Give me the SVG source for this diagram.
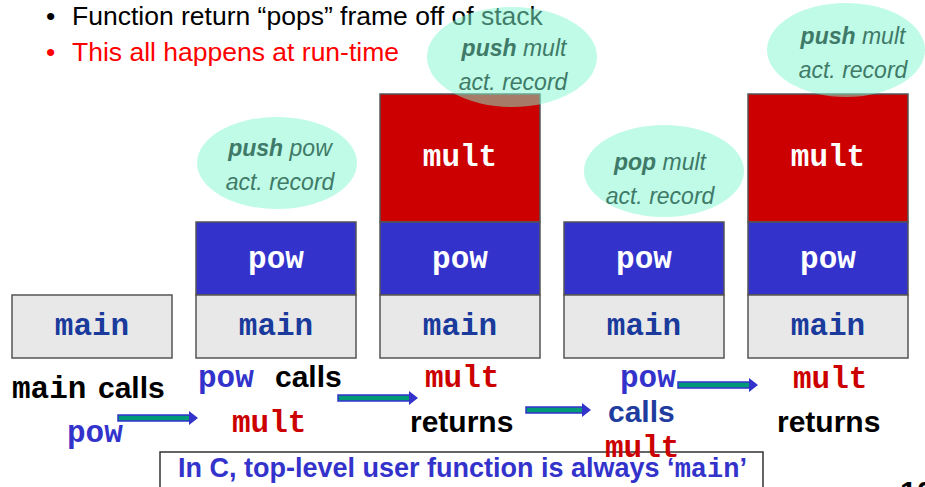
<svg xmlns="http://www.w3.org/2000/svg" width="925" height="487" viewBox="0 0 925 487">
  <style>
    .bullet { font-family: "Liberation Sans", Arial, sans-serif; font-size: 26.5px; }
    .frame { stroke: #555; stroke-width: 1.5; }
    .f-main { fill: #E8E8E8; }
    .f-pow { fill: #3333CC; }
    .f-mult { fill: #CC0000; }
    .code { font-family: "Liberation Mono", "Courier New", monospace; font-weight: bold; font-size: 31px; }
    .in-main { fill: #1A3A9C; }
    .in-box { fill: #FFFFFF; }
    .bubble { fill: #80F8D0; opacity: 0.5; }
    .note { font-family: "Liberation Sans", Arial, sans-serif; font-style: italic; font-size: 23px; fill: #3F7A68; }
    .lbl { font-family: "Liberation Sans", Arial, sans-serif; font-weight: bold; font-size: 30px; }
    .blk { fill: #000; }
    .blu { fill: #3333CC; }
    .dblu { fill: #1F3D9E; }
    .red { fill: #CC0000; }
    .shaft { fill: #009977; stroke: #3333CC; stroke-width: 1.5; }
    .head { fill: #3333CC; }
  </style>

  <!-- bullet points -->
  <text class="bullet" x="46" y="25" fill="#000">•</text>
  <text class="bullet" x="72" y="25" fill="#000">Function return “pops” frame off of stack</text>
  <text class="bullet" x="46" y="61" fill="#FF0000">•</text>
  <text class="bullet" x="72" y="61" fill="#FF0000">This all happens at run-time</text>

  <!-- stack snapshot 1 -->
  <g id="stack1">
    <rect class="frame f-main" x="12" y="295" width="160" height="63"/>
    <text class="code in-main" x="92" y="335" text-anchor="middle">main</text>
  </g>

  <!-- stack snapshot 2 -->
  <g id="stack2">
    <rect class="frame f-pow" x="196" y="222" width="160" height="73"/>
    <text class="code in-box" x="276" y="268" text-anchor="middle">pow</text>
    <rect class="frame f-main" x="196" y="295" width="160" height="63"/>
    <text class="code in-main" x="276" y="335" text-anchor="middle">main</text>
  </g>

  <!-- stack snapshot 3 -->
  <g id="stack3">
    <rect class="frame f-mult" x="380" y="94" width="160" height="128"/>
    <text class="code in-box" x="460" y="166" text-anchor="middle">mult</text>
    <rect class="frame f-pow" x="380" y="222" width="160" height="73"/>
    <text class="code in-box" x="460" y="268" text-anchor="middle">pow</text>
    <rect class="frame f-main" x="380" y="295" width="160" height="63"/>
    <text class="code in-main" x="460" y="335" text-anchor="middle">main</text>
  </g>

  <!-- stack snapshot 4 -->
  <g id="stack4">
    <rect class="frame f-pow" x="564" y="222" width="160" height="73"/>
    <text class="code in-box" x="644" y="268" text-anchor="middle">pow</text>
    <rect class="frame f-main" x="564" y="295" width="160" height="63"/>
    <text class="code in-main" x="644" y="335" text-anchor="middle">main</text>
  </g>

  <!-- stack snapshot 5 -->
  <g id="stack5">
    <rect class="frame f-mult" x="748" y="94" width="160" height="128"/>
    <text class="code in-box" x="828" y="166" text-anchor="middle">mult</text>
    <rect class="frame f-pow" x="748" y="222" width="160" height="73"/>
    <text class="code in-box" x="828" y="268" text-anchor="middle">pow</text>
    <rect class="frame f-main" x="748" y="295" width="160" height="63"/>
    <text class="code in-main" x="828" y="335" text-anchor="middle">main</text>
  </g>

  <!-- callout bubbles -->
  <g id="bubble-push-pow">
    <ellipse class="bubble" cx="277" cy="163" rx="80" ry="46"/>
    <text class="note" x="280" y="156" text-anchor="middle"><tspan font-weight="bold">push</tspan> pow</text>
    <text class="note" x="280" y="190" text-anchor="middle">act. record</text>
  </g>
  <g id="bubble-push-mult-1">
    <ellipse class="bubble" cx="512" cy="57" rx="85" ry="50"/>
    <text class="note" x="514" y="56" text-anchor="middle"><tspan font-weight="bold">push</tspan> mult</text>
    <text class="note" x="513" y="90" text-anchor="middle">act. record</text>
  </g>
  <g id="bubble-pop-mult">
    <ellipse class="bubble" cx="664" cy="171" rx="80" ry="46"/>
    <text class="note" x="660" y="170" text-anchor="middle"><tspan font-weight="bold">pop</tspan> mult</text>
    <text class="note" x="660" y="204" text-anchor="middle">act. record</text>
  </g>
  <g id="bubble-push-mult-2">
    <ellipse class="bubble" cx="846" cy="50" rx="79" ry="47"/>
    <text class="note" x="853" y="44" text-anchor="middle"><tspan font-weight="bold">push</tspan> mult</text>
    <text class="note" x="853" y="78" text-anchor="middle">act. record</text>
  </g>

  <!-- transition arrows -->
  <g id="connectors">
    <rect class="shaft" x="118" y="415" width="72" height="6"/>
    <polygon class="head" points="189,411 198,418 189,425"/>
    <rect class="shaft" x="338" y="395" width="72" height="6"/>
    <polygon class="head" points="409,391 418,398 409,405"/>
    <rect class="shaft" x="526" y="407" width="57" height="6"/>
    <polygon class="head" points="582,403 591,410 582,417"/>
    <rect class="shaft" x="678" y="382" width="72" height="6"/>
    <polygon class="head" points="749,378 758,385 749,392"/>
  </g>

  <!-- step captions -->
  <text class="code blk" x="12" y="398">main</text>
  <text class="lbl blk" x="98" y="398">calls</text>
  <text class="code blu" x="67" y="442">pow</text>

  <text class="code blu" x="198" y="387">pow</text>
  <text class="lbl blk" x="275" y="387">calls</text>
  <text class="code red" x="232" y="432">mult</text>

  <text class="code red" x="425" y="387">mult</text>
  <text class="lbl blk" x="410" y="432">returns</text>

  <!-- footer box -->
  <g id="footer">
    <rect x="160" y="452" width="603" height="50" fill="#FFFFFF" stroke="#333" stroke-width="1.5"/>
    <text x="178" y="477" font-family="Liberation Sans, Arial, sans-serif" font-weight="bold" font-size="27" fill="#3333CC">In C, top-level user function is always ‘<tspan font-family="Liberation Mono, Courier New, monospace" font-size="27">main</tspan>’</text>
  </g>

  <text class="code blu" x="620" y="387">pow</text>
  <text class="lbl dblu" x="608" y="422">calls</text>
  <text class="code red" x="605" y="457">mult</text>

  <text class="code red" x="793" y="388">mult</text>
  <text class="lbl blk" x="777" y="432">returns</text>

  <text class="lbl blk" x="900" y="502">10</text>
</svg>
